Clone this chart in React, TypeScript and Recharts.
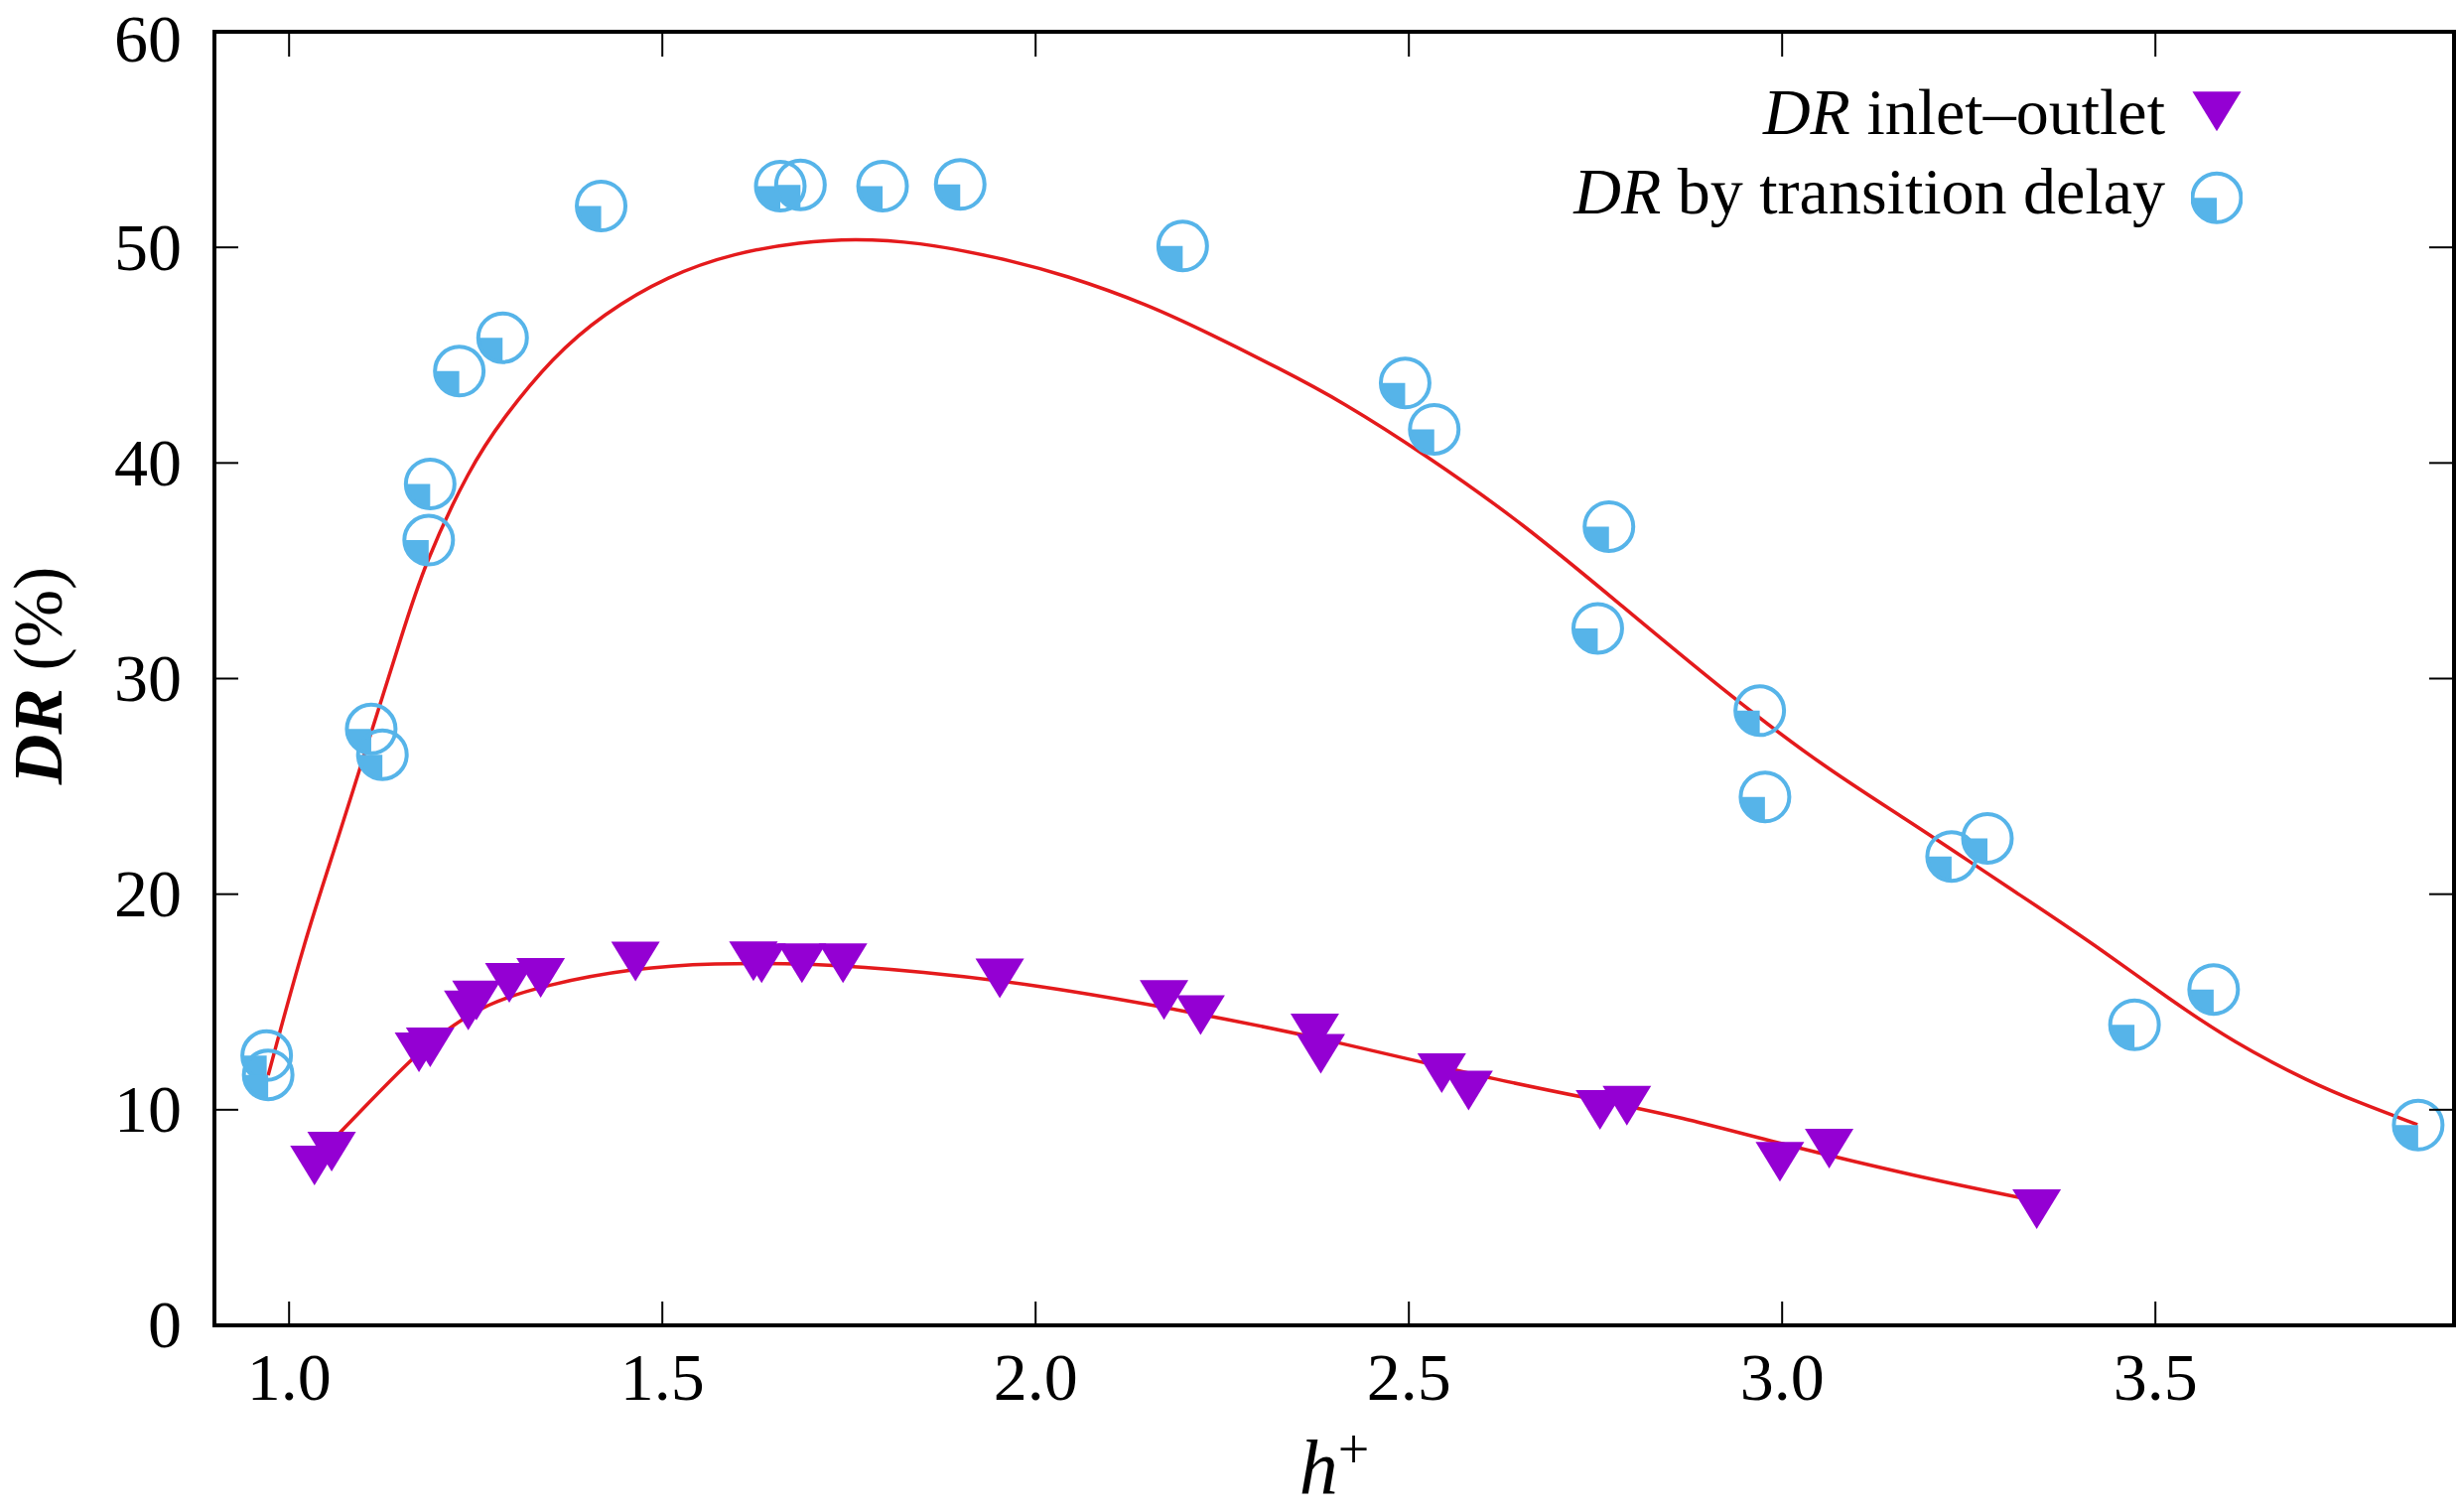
import React from 'react';
import { ComposedChart, XAxis, YAxis, Scatter, Line, Legend } from 'recharts';

// DR measured from inlet–outlet pressure drop
const inletH = [1.034, 1.057, 1.174, 1.189, 1.240, 1.251, 1.295, 1.337, 1.464, 1.622, 1.633, 1.687, 1.742, 1.952, 2.172, 2.221, 2.374, 2.382, 2.544, 2.580, 2.756, 2.792, 2.997, 3.063, 3.341];
const inletDR = [7.72, 8.37, 12.97, 13.2, 14.92, 15.38, 16.19, 16.42, 17.19, 17.2, 17.1, 17.1, 17.1, 16.4, 15.4, 14.7, 13.85, 12.9, 12.0, 11.2, 10.3, 10.5, 7.9, 8.5, 5.7];

// DR estimated from transition delay
const delayH = [0.970, 0.972, 1.110, 1.125, 1.187, 1.189, 1.228, 1.286, 1.418, 1.658, 1.685, 1.795, 1.899, 2.197, 2.495, 2.534, 2.753, 2.768, 2.970, 2.977, 3.227, 3.275, 3.472, 3.578, 3.852];
const delayDR = [12.51, 11.62, 27.66, 26.47, 36.42, 39.03, 44.26, 45.81, 51.92, 52.84, 52.90, 52.84, 52.92, 50.06, 43.71, 41.56, 32.33, 37.05, 28.51, 24.51, 21.75, 22.59, 13.94, 15.58, 9.29];

// fitted curves
const inletFitH = [1.034, 1.099, 1.166, 1.210, 1.263, 1.343, 1.463, 1.565, 1.70, 1.85, 2.00, 2.20, 2.40, 2.60, 2.76, 2.86, 3.00, 3.18, 3.338];
const inletFitDR = [7.72, 10.05, 12.43, 13.7, 14.9, 15.8, 16.57, 16.8, 16.8, 16.4, 15.8, 14.6, 13.2, 11.5, 10.4, 9.7, 8.4, 6.9, 5.79];

const delayFitH = [0.972, 1.021, 1.065, 1.109, 1.151, 1.180, 1.242, 1.287, 1.353, 1.420, 1.508, 1.597, 1.686, 1.756, 1.841, 1.951, 2.040, 2.151, 2.235, 2.324, 2.412, 2.523, 2.652, 2.785, 2.918, 3.051, 3.166, 3.259, 3.339, 3.428, 3.516, 3.605, 3.707, 3.773, 3.851];
const delayFitDR = [11.6, 17.9, 22.5, 27.4, 32.0, 35.2, 39.8, 42.1, 44.9, 46.9, 48.7, 49.75, 50.25, 50.41, 50.26, 49.53, 48.72, 47.34, 45.96, 44.43, 42.82, 40.36, 37.22, 33.38, 29.54, 26.01, 23.48, 21.33, 19.49, 17.42, 15.19, 13.12, 11.28, 10.33, 9.31];

const xTicks = [1.0, 1.5, 2.0, 2.5, 3.0, 3.5];
const yTicks = [0, 10, 20, 30, 40, 50, 60];

const zip = (xs: number[], ys: number[]) => xs.map((x, i) => ({ x, y: ys[i] }));

const PURPLE = '#9400D3';
const BLUE = '#56B4E9';
const RED = '#E41A1C';
const FONT = '"Liberation Serif", "Times New Roman", serif';
const FS = 68;
const TICK_LEN = 24;

/* ── markers ─────────────────────────────────────────── */
function Tri({ cx, cy }: any) {
  return <path d={`M${cx - 24.5},${cy - 13.3}L${cx + 24.5},${cy - 13.3}L${cx},${cy + 26.7}Z`} fill={PURPLE} />;
}

function QuarterCircle({ cx, cy }: any) {
  const r = 24.5;
  return (
    <g>
      <path d={`M${cx},${cy}L${cx - r},${cy}A${r},${r} 0 0 0 ${cx},${cy + r}Z`} fill={BLUE} />
      <circle cx={cx} cy={cy} r={r} fill="none" stroke={BLUE} strokeWidth={4} />
    </g>
  );
}

/* ── ticks (inward, gnuplot style) ───────────────────── */
function BottomTick({ x, y, payload }: any) {
  return (
    <g>
      <line x1={x} x2={x} y1={y} y2={y - TICK_LEN} stroke="#000" strokeWidth={2} />
      <text x={x} y={y + 75} textAnchor="middle" fontFamily={FONT} fontSize={FS} fill="#000">
        {Number(payload.value).toFixed(1)}
      </text>
    </g>
  );
}
function TopTick({ x, y }: any) {
  return <line x1={x} x2={x} y1={y + 1} y2={y + 1 + TICK_LEN} stroke="#000" strokeWidth={2} />;
}
function LeftTick({ x, y, payload }: any) {
  // keep the topmost label inside the page
  const base = Math.max(y + 0.33 * FS, 0.9 * FS + 1);
  return (
    <g>
      <line x1={x + 33} x2={x + 33 + TICK_LEN} y1={y} y2={y} stroke="#000" strokeWidth={2} />
      <text x={x} y={base} textAnchor="end" fontFamily={FONT} fontSize={FS} fill="#000">
        {payload.value}
      </text>
    </g>
  );
}
function RightTick({ x, y }: any) {
  return <line x1={x - 1} x2={x - 1 - TICK_LEN} y1={y} y2={y} stroke="#000" strokeWidth={2} />;
}

/* ── axis titles ─────────────────────────────────────── */
function YTitle({ viewBox }: any) {
  const x = viewBox.x + 62;
  const y = viewBox.y + viewBox.height / 2 - 3;
  return (
    <text x={x} y={y} transform={`rotate(-90, ${x}, ${y})`} textAnchor="middle" fontFamily={FONT} fontSize={70} fill="#000">
      <tspan fontWeight="bold" fontStyle="italic">DR</tspan>
      <tspan> (%)</tspan>
    </text>
  );
}
function XTitle({ viewBox }: any) {
  const x = viewBox.x + viewBox.width / 2;
  const y = viewBox.y + 170;
  return (
    <text x={x} y={y} textAnchor="middle" fontFamily={FONT} fontSize={78} fill="#000">
      <tspan fontStyle="italic">h</tspan>
      <tspan fontSize={56} dy={-26}>+</tspan>
    </text>
  );
}

/* ── legend ──────────────────────────────────────────── */
function LegendBox() {
  const row: React.CSSProperties = { display: 'flex', justifyContent: 'flex-end', alignItems: 'flex-start', height: 80 };
  return (
    <div style={{ fontFamily: FONT, fontSize: 66, lineHeight: '80px', color: '#000' }}>
      <div style={row}>
        <span style={{ whiteSpace: 'nowrap' }}><i>DR</i> inlet–outlet</span>
        <svg width={52} height={80} style={{ marginLeft: 26 }}><Tri cx={26} cy={32.6} /></svg>
      </div>
      <div style={row}>
        <span style={{ whiteSpace: 'nowrap' }}><i>DR</i> by transition delay</span>
        <svg width={52} height={80} style={{ marginLeft: 26 }}><QuarterCircle cx={26} cy={46.3} /></svg>
      </div>
    </div>
  );
}

const axisLine = { stroke: '#000', strokeWidth: 4, strokeLinecap: 'square' as const };

export default function App() {
  const inletPts = zip(inletH, inletDR);
  const delayPts = zip(delayH, delayDR);
  const inletFit = zip(inletFitH, inletFitDR);
  const delayFit = zip(delayFitH, delayFitDR);

  return (
    <div style={{ width: 2475, height: 1523, background: '#fff' }}>
      <style>{'body{margin:0}'}</style>
      <ComposedChart width={2475} height={1523} margin={{ top: 31, right: 2, bottom: 0, left: 0 }}>
        <XAxis xAxisId="b" dataKey="x" type="number" domain={[0.9, 3.9]} ticks={xTicks} interval={0}
          allowDataOverflow height={188} tickSize={0} tickMargin={0} tickLine={false}
          axisLine={axisLine} tick={<BottomTick />} label={(p: any) => <XTitle {...p} />} />
        <XAxis xAxisId="t" orientation="top" dataKey="x" type="number" domain={[0.9, 3.9]} ticks={xTicks} interval={0}
          allowDataOverflow height={1} tickSize={0} tickMargin={0} tickLine={false}
          axisLine={axisLine} tick={<TopTick />} />
        <YAxis yAxisId="l" dataKey="y" type="number" domain={[0, 60]} ticks={yTicks} interval={0}
          allowDataOverflow width={216} tickSize={0} tickMargin={33} tickLine={false}
          axisLine={axisLine} tick={<LeftTick />} label={(p: any) => <YTitle {...p} />} />
        <YAxis yAxisId="r" orientation="right" dataKey="y" type="number" domain={[0, 60]} ticks={yTicks} interval={0}
          allowDataOverflow width={1} tickSize={0} tickMargin={0} tickLine={false}
          axisLine={axisLine} tick={<RightTick />} />

        <Scatter name="DR inlet–outlet" data={inletPts} xAxisId="b" yAxisId="l" isAnimationActive={false}
          shape={(p: any) => <Tri cx={p.cx} cy={p.cy} />} />
        <Scatter name="DR by transition delay" data={delayPts} xAxisId="b" yAxisId="l" isAnimationActive={false}
          shape={(p: any) => <QuarterCircle cx={p.cx} cy={p.cy} />} />
        <Line data={inletFit} dataKey="y" xAxisId="b" yAxisId="l" type="basis" stroke={RED} strokeWidth={3.5}
          dot={false} activeDot={false} isAnimationActive={false} legendType="none" />
        {/* same domains as the bottom/left axes; binding keeps the mirrored frame axes alive */}
        <Line data={delayFit} dataKey="y" xAxisId="t" yAxisId="r" type="basis" stroke={RED} strokeWidth={3.5}
          dot={false} activeDot={false} isAnimationActive={false} legendType="none" />

        <Legend layout="horizontal" verticalAlign="middle" align="center"
          wrapperStyle={{ top: 73, right: 216, left: 'auto', width: 'auto', height: 'auto' }}
          content={() => <LegendBox />} />
      </ComposedChart>
    </div>
  );
}
